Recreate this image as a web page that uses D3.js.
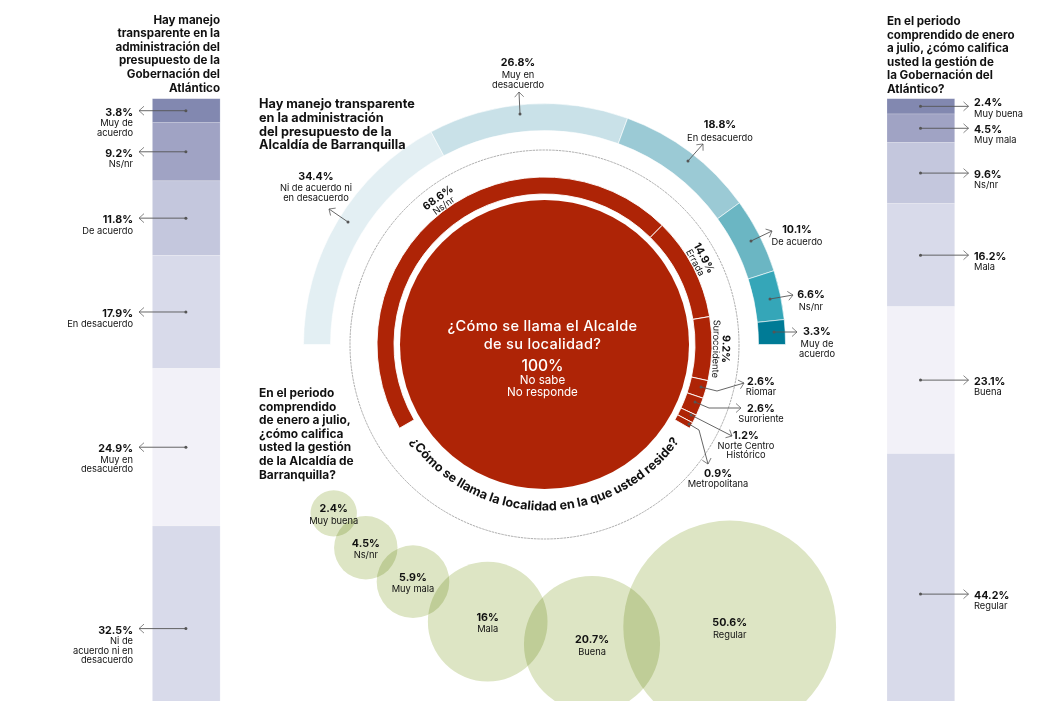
<!DOCTYPE html>
<html>
<head>
<meta charset="utf-8">
<script src="https://cdn.jsdelivr.net/npm/d3@7"></script>
<style>
html, body { margin: 0; padding: 0; background: #fff; overflow: hidden; }
svg { display: block; }
text { font-family: Inter, "Open Sans", sans-serif; fill: #111; }
.head { font-weight: 700; }
.val { font-size: 10.7px; font-weight: 700; }
.sub { font-size: 9.3px; font-weight: 400; }
.leader { fill: none; stroke: #555; stroke-width: 0.9; }
</style>
</head>
<body>
<script>
// gobernacion (barra izquierda)
var govBudgetLabels = ["Muy de|acuerdo", "Ns/nr", "De acuerdo", "En desacuerdo", "Muy en|desacuerdo", "Ni de|acuerdo ni en|desacuerdo"];
var govBudgetValues = [3.8, 9.2, 11.8, 17.9, 24.9, 32.5];

// gobernacion (barra derecha)
var govRatingLabels = ["Muy buena", "Muy mala", "Ns/nr", "Mala", "Buena", "Regular"];
var govRatingValues = [2.4, 4.5, 9.6, 16.2, 23.1, 44.2];

// semicirculo exterior
var cityBudgetLabels = ["Ni de acuerdo ni|en desacuerdo", "Muy en|desacuerdo", "En desacuerdo", "De acuerdo", "Ns/nr", "Muy de|acuerdo"];
var cityBudgetValues = [34.4, 26.8, 18.8, 10.1, 6.6, 3.3];

// anillo rojo
var districtLabels = ["Ns/nr", "Errada", "Suroccidente", "Riomar", "Suroriente", "Norte Centro|Histórico", "Metropolitana"];
var districtValues = [68.6, 14.9, 9.2, 2.6, 2.6, 1.2, 0.9];

// burbujas
var cityRatingLabels = ["Muy buena", "Ns/nr", "Muy mala", "Mala", "Buena", "Regular"];
var cityRatingValues = [2.4, 4.5, 5.9, 16, 20.7, 50.6];
var cityRatingNames = ["2.4%", "4.5%", "5.9%", "16%", "20.7%", "50.6%"];

var width = 1047, height = 701;
var cx = 544.5, cy = 344.5;
var barPurples = ["#8288b0", "#a0a3c4", "#c4c7dd", "#d8daea", "#f2f1f8", "#d8daea"];
var outerBlues = ["#e3eff3", "#c9e1e8", "#9bcad5", "#6bb6c3", "#35a6b8", "#007b96"];
var red = "#ae2406";

var svg = d3.select("body").append("svg")
    .attr("width", width)
    .attr("height", height);

var defs = svg.append("defs");
defs.append("marker")
    .attr("id", "dot")
    .attr("markerUnits", "userSpaceOnUse")
    .attr("markerWidth", 6).attr("markerHeight", 6)
    .attr("refX", 3).attr("refY", 3)
    .append("circle")
    .attr("cx", 3).attr("cy", 3).attr("r", 1.5)
    .attr("fill", "#555");
defs.append("marker")
    .attr("id", "tip")
    .attr("markerUnits", "userSpaceOnUse")
    .attr("markerWidth", 12).attr("markerHeight", 12)
    .attr("refX", 6.5).attr("refY", 6)
    .attr("orient", "auto")
    .append("path")
    .attr("d", "M1.5,1.5L6.5,6L1.5,10.5")
    .attr("fill", "none")
    .attr("stroke", "#555")
    .attr("stroke-width", 0.7);

function leader(points) {
    svg.append("path")
        .attr("class", "leader")
        .attr("d", d3.line()(points))
        .attr("marker-start", "url(#dot)")
        .attr("marker-end", "url(#tip)");
}

function note(x, y, anchor, value, label, gap, step) {
    svg.append("text").attr("class", "val")
        .attr("x", x).attr("y", y)
        .attr("text-anchor", anchor)
        .text(value);
    label.split("|").forEach(function(line, i) {
        svg.append("text").attr("class", "sub")
            .attr("x", x).attr("y", y + gap + i * step)
            .attr("text-anchor", anchor)
            .text(line);
    });
}

function heading(lines, x, y, anchor, step, size) {
    lines.forEach(function(line, i) {
        svg.append("text").attr("class", "head")
            .attr("x", x).attr("y", y + i * step)
            .attr("text-anchor", anchor)
            .style("font-size", size + "px")
            .text(line);
    });
}

// barras apiladas
function stackedBar(values, labels, barX, yScale, side) {
    var ends = Array.from(d3.cumsum(values));
    var barWidth = 67.7;
    svg.selectAll(null)
        .data(values)
        .enter()
        .append("rect")
        .attr("x", barX)
        .attr("y", function(d, i) { return yScale(ends[i] - d); })
        .attr("width", barWidth)
        .attr("height", function(d) { return yScale(d) - yScale(0); })
        .attr("fill", function(d, i) { return barPurples[i]; })
        .attr("stroke", "#fff")
        .attr("stroke-opacity", 0.3)
        .attr("stroke-width", 0.6);

    values.forEach(function(d, i) {
        var mid = yScale(ends[i] - d / 2);
        var dotX = barX + 33.5;
        if (side === "left") {
            leader([[dotX, mid], [139, mid]]);
            note(133, mid + 5, "end", d + "%", labels[i], 10.5, 9.6);
        } else {
            leader([[dotX, mid], [968.5, mid]]);
            // la primera etiqueta sube para no tocar la siguiente
            note(974, i === 0 ? mid : mid + 4.5, "start", d + "%", labels[i], 10.5, 9.6);
        }
    });
}

var leftY = d3.scaleLinear().domain([0, 100.1]).range([98.7, 731.3]);
var rightY = d3.scaleLinear().domain([0, 100.1]).range([98.7, 735.3]);
stackedBar(govBudgetValues, govBudgetLabels, 152.4, leftY, "left");
stackedBar(govRatingValues, govRatingLabels, 887, rightY, "right");

// circulo punteado
svg.append("circle")
    .attr("cx", cx).attr("cy", cy).attr("r", 194.5)
    .attr("fill", "none")
    .attr("stroke", "#8a8a8a")
    .attr("stroke-width", 0.7)
    .attr("stroke-dasharray", "2.5 0.8");

// semicirculo exterior
var outerPie = d3.pie().sort(null)
    .startAngle(-Math.PI / 2)
    .endAngle(Math.PI / 2);
var outerArc = d3.arc().innerRadius(214).outerRadius(241);

var rings = svg.append("g").attr("transform", "translate(" + cx + "," + cy + ")");
rings.selectAll(".outer")
    .data(outerPie(cityBudgetValues))
    .enter()
    .append("path")
    .attr("class", "outer")
    .attr("d", outerArc)
    .attr("fill", function(d, i) { return outerBlues[i]; })
    .attr("stroke", "#fff")
    .attr("stroke-width", 0.6);

// anillo rojo
var ringPie = d3.pie().sort(null)
    .startAngle(-120 * Math.PI / 180)
    .endAngle(120 * Math.PI / 180);
var ringArc = d3.arc().innerRadius(150.5).outerRadius(167.5);
var ringData = ringPie(districtValues);

rings.selectAll(".ring")
    .data(ringData)
    .enter()
    .append("path")
    .attr("class", "ring")
    .attr("d", ringArc)
    .attr("fill", red)
    .attr("stroke", "#fff")
    .attr("stroke-width", 0.9);

rings.append("circle")
    .attr("r", 144.5)
    .attr("fill", red);

// textos sobre el anillo (solo los tres sectores grandes)
var ringTextShift = [1.7, -1, 0];
ringData.slice(0, 3).forEach(function(d, i) {
    var deg = (d.startAngle + d.endAngle) / 2 * 180 / Math.PI + ringTextShift[i];
    rings.append("text").attr("class", "val")
        .attr("transform", "rotate(" + deg + ") translate(0,-178)")
        .attr("text-anchor", "middle")
        .text(d.value + "%");
    rings.append("text").attr("class", "sub")
        .attr("transform", "rotate(" + deg + ") translate(0,-168.5)")
        .attr("text-anchor", "middle")
        .text(districtLabels[i]);
});

// pregunta curva
var askR = 166;
var askA = 62 * Math.PI / 180;
defs.append("path")
    .attr("id", "ask")
    .attr("d", "M" + (cx - askR * Math.sin(askA)) + "," + (cy + askR * Math.cos(askA)) +
        "A" + askR + "," + askR + " 0 0 0 " + (cx + askR * Math.sin(askA)) + "," + (cy + askR * Math.cos(askA)));
svg.append("text")
    .attr("class", "head")
    .style("font-size", "12.6px")
    .append("textPath")
    .attr("href", "#ask")
    .attr("startOffset", "50%")
    .attr("text-anchor", "middle")
    .text("¿Cómo se llama la localidad en la que usted reside?");

// texto central
var centerLines = [
    ["¿Cómo se llama el Alcalde", 331, 14.6, 500, 0.3],
    ["de su localidad?", 349, 14.6, 500, 0.3],
    ["100%", 371, 15.6, 500, 0],
    ["No sabe", 384, 11.6, 400, 0],
    ["No responde", 396, 11.6, 400, 0]
];
centerLines.forEach(function(d) {
    svg.append("text")
        .attr("x", 542.5).attr("y", d[1])
        .attr("text-anchor", "middle")
        .style("fill", "#fff")
        .style("font-size", d[2] + "px")
        .style("font-weight", d[3])
        .style("letter-spacing", d[4] + "px")
        .text(d[0]);
});

// burbujas
var bubbleR = d3.scaleSqrt().domain([0, 50.6]).range([0, 106.4]);
var bubbleX = d3.scaleOrdinal().domain(cityRatingNames).range([333.7, 365.8, 413, 487.7, 592, 729.7]);
var bubbleY = d3.scaleOrdinal().domain(cityRatingNames).range([513.3, 547.7, 581.7, 621.7, 644, 627]);

svg.selectAll(".bubble")
    .data(cityRatingValues)
    .enter()
    .append("circle")
    .attr("class", "bubble")
    .attr("cx", function(d, i) { return bubbleX(cityRatingNames[i]); })
    .attr("cy", function(d, i) { return bubbleY(cityRatingNames[i]); })
    .attr("r", function(d) { return bubbleR(d); })
    .attr("fill", "#dde5c4")
    .style("mix-blend-mode", "multiply");

cityRatingValues.forEach(function(d, i) {
    var n = cityRatingNames[i];
    note(bubbleX(n), bubbleY(n) - 1, "middle", n, cityRatingLabels[i], 11.5, 10);
});

// notas del semicirculo
var outerNotes = [
    { dot: [348, 222], tip: [329, 209], x: 316, y: 180, gap: 11, step: 10 },
    { dot: [520, 114], tip: [519, 92], x: 518, y: 66, gap: 12, step: 10 },
    { dot: [688, 161], tip: [703, 144], x: 720, y: 128, gap: 13, step: 10 },
    { dot: [751, 241], tip: [772, 231], x: 797, y: 233, gap: 12, step: 10 },
    { dot: [770, 299], tip: [793, 295], x: 811, y: 298, gap: 12, step: 10 },
    { dot: [774, 332], tip: [797, 332], x: 817, y: 335, gap: 12, step: 10 }
];
outerNotes.forEach(function(n, i) {
    leader([n.dot, n.tip]);
    note(n.x, n.y, "middle", cityBudgetValues[i] + "%", cityBudgetLabels[i], n.gap, n.step);
});

// notas de los sectores pequeños
var ringNotes = [
    { pts: [[701, 387], [717, 391], [744, 383]], x: 761, y: 385, gap: 10, step: 9 },
    { pts: [[695, 402], [709, 408], [741, 408]], x: 761, y: 412, gap: 10, step: 9 },
    { pts: [[691, 415], [732, 436]], x: 746, y: 439, gap: 10, step: 9 },
    { pts: [[689, 424], [699, 430], [708, 464]], x: 718, y: 477, gap: 10, step: 9 }
];
ringNotes.forEach(function(n, i) {
    leader(n.pts);
    note(n.x, n.y, "middle", districtValues[i + 3] + "%", districtLabels[i + 3], n.gap, n.step);
});

// titulos
heading(["Hay manejo", "transparente en la", "administración del", "presupuesto de la", "Gobernación del", "Atlántico"], 220, 23.5, "end", 13.6, 11.6);
heading(["En el periodo", "comprendido de enero", "a julio, ¿cómo califica", "usted la gestión de", "la Gobernación del", "Atlántico?"], 887, 25, "start", 13.6, 11.6);
heading(["Hay manejo transparente", "en la administración", "del presupuesto de la", "Alcaldía de Barranquilla"], 259, 108, "start", 13.8, 12.7);
heading(["En el periodo", "comprendido", "de enero a julio,", "¿cómo califica", "usted la gestión", "de la Alcaldía de", "Barranquilla?"], 259, 397, "start", 13.6, 11.9);
</script>
</body>
</html>
